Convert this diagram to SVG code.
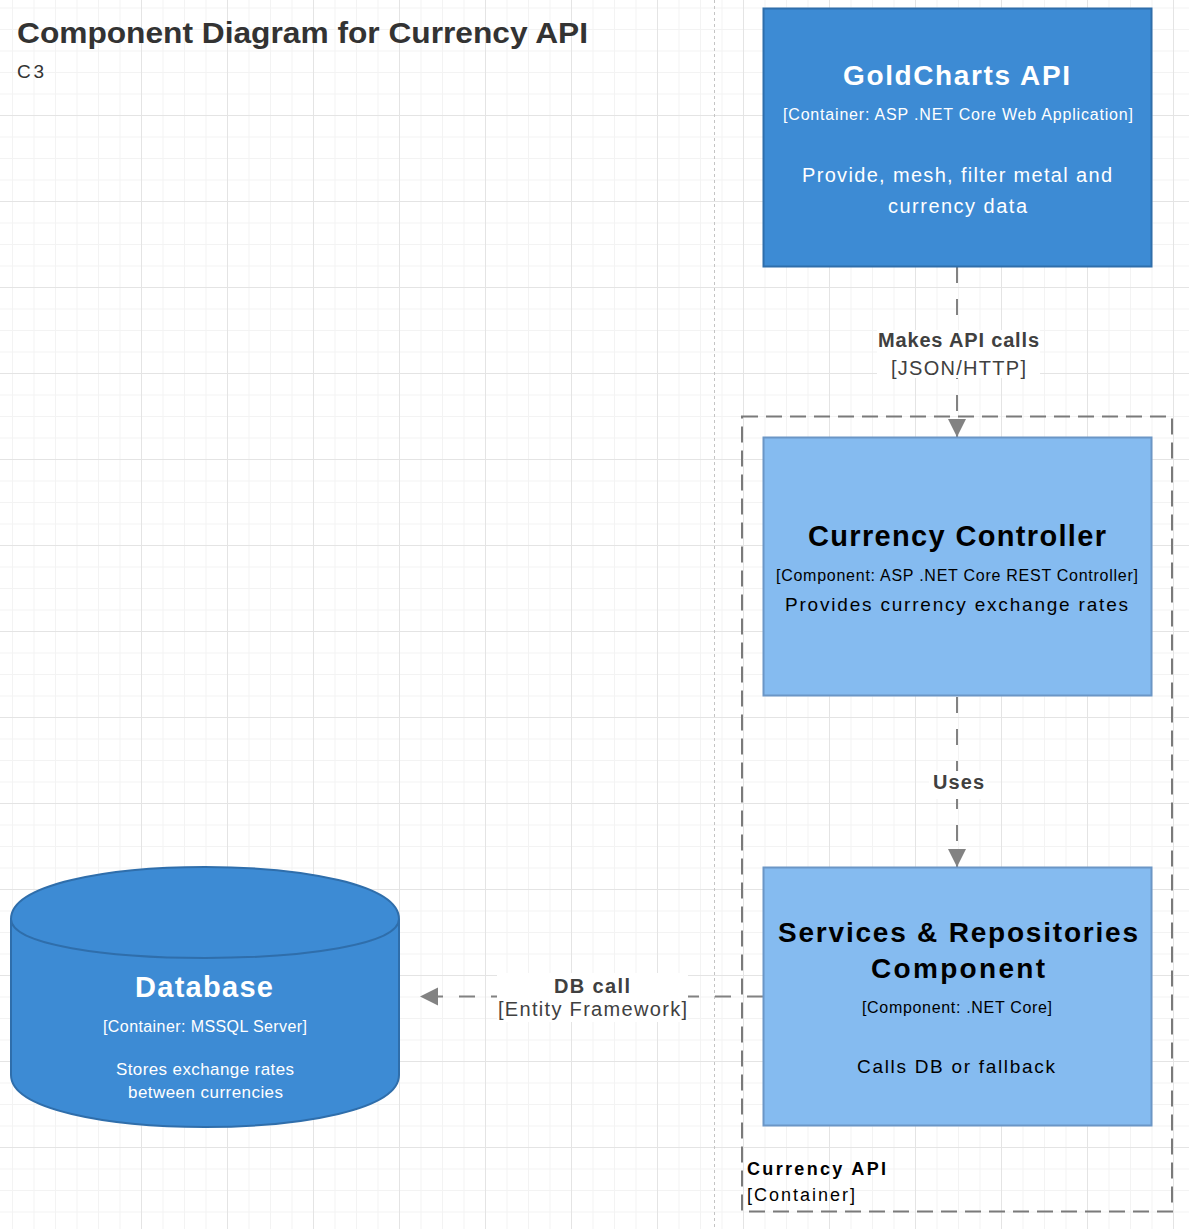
<svg xmlns="http://www.w3.org/2000/svg" width="1189" height="1229" viewBox="0 0 1189 1229">
  <style>
    text { font-family: "Liberation Sans", Arial, sans-serif; }
    .b { font-weight: bold; }
    .w { fill: #ffffff; }
    .k { fill: #000000; }
    .g { fill: #404040; }
    .container { fill: #3D8BD4; stroke: #2F6EAB; stroke-width: 2; }
    .component { fill: #85BBF0; stroke: #6B96C6; stroke-width: 2; }
    .rel { fill: none; stroke: #828282; stroke-width: 2; stroke-dasharray: 16 16; }
    .lblbg { fill: #ffffff; }
    .boundary { fill: none; stroke: #7a7a7a; stroke-width: 2; stroke-dasharray: 16 8; }
    .major { stroke: #e4e4e4; stroke-width: 1; fill: none; }
  </style>
  <defs>
    <pattern id="minor" x="12" y="7.5" width="21.5" height="21.5" patternUnits="userSpaceOnUse">
      <path d="M0.5,0 V21.5 M0,0.5 H21.5" stroke="#f3f3f3" stroke-width="1" fill="none"/>
    </pattern>
    <marker id="arrow" markerUnits="userSpaceOnUse" markerWidth="20" markerHeight="20" refX="18" refY="9" orient="auto">
      <path d="M0,0 L18,9 L0,18 Z" fill="#828282"/>
    </marker>
  </defs>

  <g id="background">
    <rect x="0" y="0" width="1189" height="1229" fill="#ffffff"/>
    <rect x="0" y="0" width="1189" height="1229" fill="url(#minor)"/>
    <path class="major" d="M141.5,0 V1229 M227.5,0 V1229 M313.5,0 V1229 M399.5,0 V1229 M485.5,0 V1229 M571.5,0 V1229 M657.5,0 V1229 M743.5,0 V1229 M829.5,0 V1229 M915.5,0 V1229 M1001.5,0 V1229 M1087.5,0 V1229 M1173.5,0 V1229
      M0,115.5 H1189 M0,201.5 H1189 M0,287.5 H1189 M0,373.5 H1189 M0,459.5 H1189 M0,545.5 H1189 M0,631.5 H1189 M0,717.5 H1189 M0,803.5 H1189 M0,889.5 H1189 M0,975.5 H1189 M0,1061.5 H1189 M0,1147.5 H1189"/>
    <line x1="714.5" y1="0" x2="714.5" y2="1229" stroke="#c4c4c4" stroke-width="1" stroke-dasharray="3 3"/>
  </g>

  <g id="title">
    <text x="17" y="43" class="b" font-size="30" fill="#333333" textLength="571" lengthAdjust="spacingAndGlyphs">Component Diagram for Currency API</text>
    <text x="17" y="78" font-size="19" fill="#333333" textLength="27" lengthAdjust="spacing">C3</text>
  </g>

  <g id="currency-api-boundary">
    <rect class="boundary" x="742" y="416.5" width="430" height="795"/>
    <text x="747" y="1175" class="b k" font-size="18" textLength="139" lengthAdjust="spacing">Currency API</text>
    <text x="747" y="1201" class="k" font-size="18" textLength="108" lengthAdjust="spacing">[Container]</text>
  </g>

  <g id="connectors">
    <path class="rel" d="M957,267 V437" marker-end="url(#arrow)"/>
    <rect class="lblbg" x="877" y="330" width="163" height="48"/>
    <text x="958.5" y="347" text-anchor="middle" class="b g" font-size="20" textLength="161" lengthAdjust="spacing">Makes API calls</text>
    <text x="958.5" y="375" text-anchor="middle" class="g" font-size="20" textLength="135" lengthAdjust="spacing">[JSON/HTTP]</text>

    <path class="rel" d="M957,697 V867" marker-end="url(#arrow)"/>
    <rect class="lblbg" x="929" y="771" width="58" height="28"/>
    <text x="958.5" y="789" text-anchor="middle" class="b g" font-size="20" textLength="51" lengthAdjust="spacing">Uses</text>

    <path class="rel" d="M763,996.5 H420" marker-end="url(#arrow)"/>
    <rect class="lblbg" x="497" y="973" width="191" height="49"/>
    <text x="592" y="993" text-anchor="middle" class="b g" font-size="20" textLength="76" lengthAdjust="spacing">DB call</text>
    <text x="592.5" y="1016" text-anchor="middle" class="g" font-size="20" textLength="189" lengthAdjust="spacing">[Entity Framework]</text>
  </g>

  <g id="goldcharts-api">
    <rect class="container" x="763.5" y="8.5" width="388" height="258"/>
    <text x="956.5" y="85" text-anchor="middle" class="b w" font-size="28" textLength="227" lengthAdjust="spacing">GoldCharts API</text>
    <text x="958" y="120" text-anchor="middle" class="w" font-size="16" textLength="350" lengthAdjust="spacing">[Container: ASP .NET Core Web Application]</text>
    <text x="957" y="182" text-anchor="middle" class="w" font-size="20" textLength="310" lengthAdjust="spacing">Provide, mesh, filter metal and</text>
    <text x="957.5" y="213" text-anchor="middle" class="w" font-size="20" textLength="139" lengthAdjust="spacing">currency data</text>
  </g>

  <g id="currency-controller">
    <rect class="component" x="763.5" y="437.5" width="388" height="258"/>
    <text x="957" y="546" text-anchor="middle" class="b k" font-size="29" textLength="298" lengthAdjust="spacing">Currency Controller</text>
    <text x="957" y="581" text-anchor="middle" class="k" font-size="16" textLength="362" lengthAdjust="spacing">[Component: ASP .NET Core REST Controller]</text>
    <text x="956.5" y="611" text-anchor="middle" class="k" font-size="19" textLength="343" lengthAdjust="spacing">Provides currency exchange rates</text>
  </g>

  <g id="services-repositories">
    <rect class="component" x="763.5" y="867.5" width="388" height="258"/>
    <text x="958" y="942" text-anchor="middle" class="b k" font-size="28" textLength="360" lengthAdjust="spacing">Services &amp; Repositories</text>
    <text x="958" y="978" text-anchor="middle" class="b k" font-size="28" textLength="174" lengthAdjust="spacing">Component</text>
    <text x="957" y="1013" text-anchor="middle" class="k" font-size="16" textLength="190" lengthAdjust="spacing">[Component: .NET Core]</text>
    <text x="956" y="1073" text-anchor="middle" class="k" font-size="19" textLength="198" lengthAdjust="spacing">Calls DB or fallback</text>
  </g>

  <g id="database">
    <path class="container" d="M11,919 C11,849.7 399,849.7 399,919 L399,1075 C399,1144.3 11,1144.3 11,1075 Z"/>
    <path class="container" d="M11,919 C11,971 399,971 399,919"/>
    <text x="204" y="997" text-anchor="middle" class="b w" font-size="29" textLength="138" lengthAdjust="spacing">Database</text>
    <text x="205" y="1032" text-anchor="middle" class="w" font-size="16" textLength="204" lengthAdjust="spacing">[Container: MSSQL Server]</text>
    <text x="205" y="1075" text-anchor="middle" class="w" font-size="17" textLength="178" lengthAdjust="spacing">Stores exchange rates</text>
    <text x="205.5" y="1098" text-anchor="middle" class="w" font-size="17" textLength="155" lengthAdjust="spacing">between currencies</text>
  </g>
</svg>
